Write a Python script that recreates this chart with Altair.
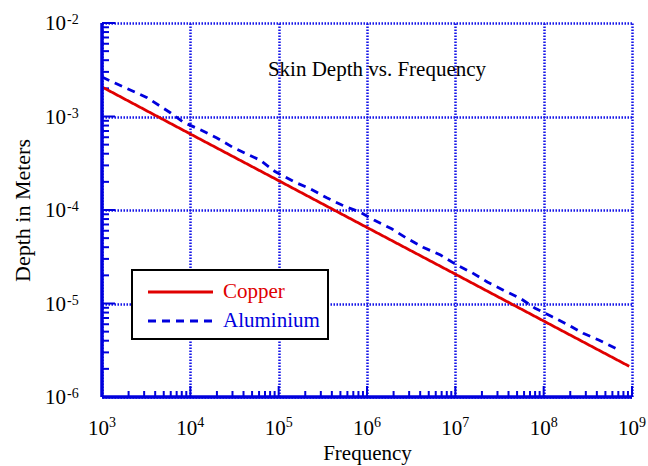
import altair as alt
import pandas as pd

# ---------------- data ----------------
freq_copper = [1e3, 1e4, 1e5, 1e6, 1e7, 1e8, 9.3e8]
depth_copper = [2.07e-3, 6.5e-4, 2.06e-4, 6.5e-5, 2.06e-5, 6.5e-6, 2.13e-6]

freq_alu = [1e3, 1.4e3, 2.5e3, 3.2e3, 6e3, 8.3e3, 1.3e4, 2e4, 3e4, 6.2e4, 9e4,
            1.5e5, 2.3e5, 3.5e5, 5.2e5, 8.3e5, 1.2e6, 1.9e6, 2.8e6, 4.3e6, 6.8e6,
            1.05e7, 1.55e7, 2.3e7, 3.5e7, 5.4e7, 8e7, 1.25e8, 1.9e8, 2.8e8, 4.2e8, 7e8]
depth_alu = [2.64e-3, 2.28e-3, 1.78e-3, 1.6e-3, 1.09e-3, 8.7e-4, 7.2e-4, 5.9e-4, 4.7e-4, 3.4e-4, 2.6e-4,
             2.0e-4, 1.68e-4, 1.35e-4, 1.13e-4, 9.5e-5, 7.8e-5, 6.3e-5, 5.0e-5, 4.0e-5, 3.3e-5,
             2.57e-5, 2.13e-5, 1.7e-5, 1.39e-5, 1.14e-5, 8.9e-6, 7.2e-6, 5.9e-6, 4.8e-6, 4.07e-6, 3.2e-6]

series_names = ["Copper", "Aluminium"]
series_colors = ["#e00000", "#0000dd"]
series_dashes = [[1, 0], [8, 6]]

x_decade_exps = [3, 4, 5, 6, 7, 8, 9]
y_decade_exps = [-6, -5, -4, -3, -2]
minor_mults = [2, 3, 4, 5, 6, 7, 8, 9]

title_text = "Skin Depth vs. Frequency"
x_title = "Frequency"
y_title = "Depth in Meters"

# ---------------- build tables ----------------
lines_df = pd.concat([
    pd.DataFrame({"freq": freq_copper, "depth": depth_copper, "series": series_names[0]}),
    pd.DataFrame({"freq": freq_alu, "depth": depth_alu, "series": series_names[1]}),
])

x_decades = [10.0 ** e for e in x_decade_exps]
y_decades = [10.0 ** e for e in y_decade_exps]
x_minor = [m * 10.0 ** e for e in x_decade_exps[:-1] for m in minor_mults]
y_minor = [m * 10.0 ** e for e in y_decade_exps[:-1] for m in minor_mults]

xlab_df = pd.DataFrame({"v": x_decades, "base": "10", "exp": [str(e) for e in x_decade_exps]})
ylab_df = pd.DataFrame({"v": y_decades, "base": "10", "exp": [str(e) for e in y_decade_exps]})

# ---------------- styles ----------------
W, H = 530, 374
FONT = "Liberation Serif"
BLUE = "#0000dd"
GRID = "#1414e8"

xs = alt.Scale(type="log", domain=[1e3, 1e9], nice=False)
ys = alt.Scale(type="log", domain=[1e-6, 1e-2], nice=False)

ax_x = alt.Axis(values=x_decades, grid=True, gridColor=GRID, gridDash=[1.5, 1.5], gridWidth=2.5,
                labels=False, ticks=False, domain=False, title=x_title, titleFont=FONT,
                titleFontSize=21, titleFontWeight="normal", titleColor="black", titlePadding=45)
ax_y = alt.Axis(values=y_decades, grid=True, gridColor=GRID, gridDash=[1.5, 1.5], gridWidth=2.5,
                labels=False, ticks=False, domain=False, title=y_title, titleFont=FONT,
                titleFontSize=22, titleFontWeight="normal", titleColor="black", titlePadding=68)

X = lambda f: alt.X(f"{f}:Q", scale=xs, axis=ax_x)
Y = lambda f: alt.Y(f"{f}:Q", scale=ys, axis=ax_y)

lines = alt.Chart(lines_df).mark_line(strokeWidth=2.8, clip=True).encode(
    x=X("freq"), y=Y("depth"),
    color=alt.Color("series:N", scale=alt.Scale(domain=series_names, range=series_colors), legend=None),
    strokeDash=alt.StrokeDash("series:N", scale=alt.Scale(domain=series_names, range=series_dashes), legend=None),
    detail="series:N",
)

# ticks (inside)
xminor = alt.Chart(pd.DataFrame({"v": x_minor})).mark_rule(color=BLUE, strokeWidth=2).encode(
    x=X("v"), y=alt.value(H), y2=alt.value(H - 6))
xmajor = alt.Chart(pd.DataFrame({"v": x_decades})).mark_rule(color=BLUE, strokeWidth=2).encode(
    x=X("v"), y=alt.value(H), y2=alt.value(H - 11))
yminor = alt.Chart(pd.DataFrame({"v": y_minor})).mark_rule(color=BLUE, strokeWidth=2).encode(
    y=Y("v"), x=alt.value(0), x2=alt.value(7))
ymajor = alt.Chart(pd.DataFrame({"v": y_decades})).mark_rule(color=BLUE, strokeWidth=2).encode(
    y=Y("v"), x=alt.value(0), x2=alt.value(13))

one = pd.DataFrame({"a": [0]})
left_dom = alt.Chart(one).mark_rule(color=BLUE, strokeWidth=3.5).encode(
    x=alt.value(0), y=alt.value(0), y2=alt.value(H))
bot_dom = alt.Chart(one).mark_rule(color=BLUE, strokeWidth=3.5).encode(
    y=alt.value(H), x=alt.value(0), x2=alt.value(W))

# tick labels as 10 with superscript exponent
xbase = alt.Chart(xlab_df).mark_text(font=FONT, fontSize=21, align="right", baseline="alphabetic", dx=7, color="black").encode(
    x=X("v"), y=alt.value(H + 38), text="base:N")
xexp = alt.Chart(xlab_df).mark_text(font=FONT, fontSize=14, align="left", baseline="alphabetic", dx=7, color="black").encode(
    x=X("v"), y=alt.value(H + 30), text="exp:N")
ybase = alt.Chart(ylab_df).mark_text(font=FONT, fontSize=21, align="right", baseline="alphabetic", dy=7, color="black").encode(
    y=Y("v"), x=alt.value(-36), text="base:N")
yexp = alt.Chart(ylab_df).mark_text(font=FONT, fontSize=14, align="left", baseline="alphabetic", dy=1, color="black").encode(
    y=Y("v"), x=alt.value(-35), text="exp:N")

title = alt.Chart(pd.DataFrame({"t": [title_text]})).mark_text(
    font=FONT, fontSize=21, align="center", baseline="alphabetic", color="black").encode(
    x=alt.value(275), y=alt.value(53), text="t:N")

# legend box
legend_layers = [alt.Chart(one).mark_rect(fill="white", stroke="black", strokeWidth=2).encode(
    x=alt.value(30), x2=alt.value(226), y=alt.value(247), y2=alt.value(316))]
for i, (name, col, dash) in enumerate(zip(series_names, series_colors, series_dashes)):
    yy = 269 + 29 * i
    legend_layers.append(alt.Chart(one).mark_rule(color=col, strokeWidth=2.8, strokeDash=dash).encode(
        x=alt.value(46), x2=alt.value(111), y=alt.value(yy)))
    legend_layers.append(alt.Chart(pd.DataFrame({"t": [name]})).mark_text(
        font=FONT, fontSize=21, align="left", baseline="middle", color=col).encode(
        x=alt.value(121), y=alt.value(yy), text="t:N"))

chart = alt.layer(
    xminor, xmajor, yminor, ymajor, lines, left_dom, bot_dom,
    xbase, xexp, ybase, yexp, title, *legend_layers
).properties(
    width=W, height=H,
    padding={"left": 102, "top": 23, "right": 16, "bottom": 69},
    autosize=alt.AutoSizeParams(type="none"),
    background="white",
).configure_view(stroke=None)

chart.save("out.html", embed_options={"renderer": "svg", "actions": False})
